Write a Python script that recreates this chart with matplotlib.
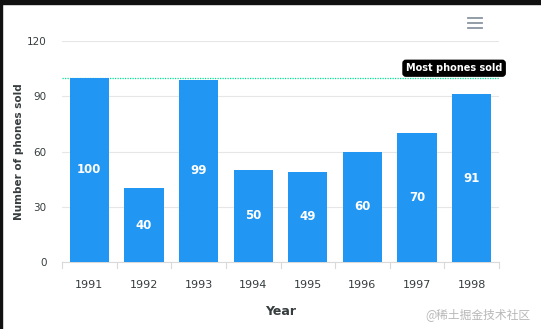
import matplotlib.pyplot as plt
from matplotlib.lines import Line2D
from matplotlib.patches import Rectangle

years = ['1991', '1992', '1993', '1994', '1995', '1996', '1997', '1998']
sold = [100, 40, 99, 50, 49, 60, 70, 91]
y_ticks = [0, 30, 60, 90, 120]
peak_value = 100
peak_label = 'Most phones sold'

plt.rcParams['font.family'] = ['DejaVu Sans', 'Noto Sans CJK SC']

W, H = 541, 329
fig = plt.figure(figsize=(W / 100, H / 100), dpi=100)
ax = fig.add_axes([62 / W, 1 - 262 / H, 437 / W, 221 / H])

x = range(len(years))
bars = ax.bar(x, sold, width=0.72, color='#2196F3', zorder=3)
for b, v in zip(bars, sold):
    ax.text(b.get_x() + b.get_width() / 2, v / 2, str(v), ha='center', va='center',
            color='white', fontsize=8.5, fontweight='bold', zorder=4)

ax.set_xlim(-0.5, len(years) - 0.5)
ax.set_ylim(0, 120)
ax.set_yticks(y_ticks)
ax.set_xticks(list(x))
ax.set_xticklabels(years)
ax.tick_params(axis='y', length=0, labelsize=7.5, labelcolor='#373d3f', pad=11)
ax.tick_params(axis='x', length=0, labelsize=8, labelcolor='#373d3f', pad=13)
ax.grid(axis='y', color='#e6e6e6', linewidth=0.8, zorder=0)
for s in ['top', 'right', 'left']:
    ax.spines[s].set_visible(False)
ax.spines['bottom'].set_color('#d9d9d9')

# category tick marks below the axis
for i in range(len(years) + 1):
    ax.plot([i - 0.5, i - 0.5], [0, -3], color='#d9d9d9', lw=0.8, clip_on=False)

# annotation line
ax.axhline(peak_value, color='#00E396', lw=0.9, ls=(0, (1, 1)), zorder=2)
ax.text(7.56, 102.5, peak_label, ha='right', va='bottom', color='white', fontsize=7,
        fontweight='bold', bbox=dict(boxstyle='round,pad=0.3', fc='black', ec='black'))

ax.set_xlabel('Year', fontsize=9, fontweight='bold', color='#373d3f', labelpad=11)
ax.set_ylabel('Number of phones sold', fontsize=7.5, fontweight='bold', color='#373d3f')
ax.yaxis.set_label_coords(-0.086, 0.5)

# menu icon
for yy in [18, 23, 28]:
    fig.add_artist(Line2D([468 / W, 482 / W], [1 - yy / H, 1 - yy / H], color='#8a95a0', lw=1.3))

# screenshot frame edges
fig.add_artist(Rectangle((0, 1 - 4 / H), 1, 4 / H, transform=fig.transFigure, color='#111111'))
fig.add_artist(Rectangle((0, 0), 2 / W, 1, transform=fig.transFigure, color='#111111'))

fig.text(0.98, 0.045, '@稀土掘金技术社区', ha='right', va='center', fontsize=8.5,
         color='#b8b8b8', family=['Noto Sans CJK SC', 'DejaVu Sans'])

fig.savefig('out.png', dpi=100)
